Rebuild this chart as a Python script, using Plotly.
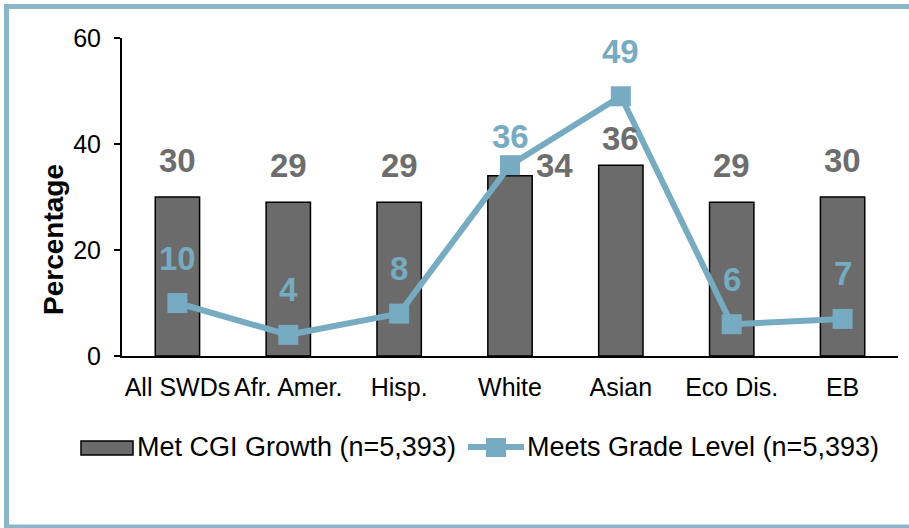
import plotly.graph_objects as go

categories = ["All SWDs", "Afr. Amer.", "Hisp.", "White", "Asian", "Eco Dis.", "EB"]
met_cgi_growth = [30, 29, 29, 34, 36, 29, 30]
meets_grade_level = [10, 4, 8, 36, 49, 6, 7]
y_ticks = [0, 20, 40, 60]
bar_name = "Met CGI Growth (n=5,393)"
line_name = "Meets Grade Level (n=5,393)"

BAR_COLOR = "#6b6b6b"
LINE_COLOR = "#76abc1"
BORDER = "#8bb8c9"
FONT = "Liberation Sans, Arial, sans-serif"

W, H = 909, 528
L, R, T, B = 122, 11, 38, 172
pw = W - L - R
ph = H - T - B

def px_x(px):
    return (px - L) / pw

def px_y(py):
    return (H - B - py) / ph

fig = go.Figure()
fig.add_trace(go.Bar(
    x=categories, y=met_cgi_growth, name=bar_name,
    marker=dict(color=BAR_COLOR, line=dict(color="black", width=1.5)),
    width=0.40, showlegend=False,
))
fig.add_trace(go.Scatter(
    x=categories, y=meets_grade_level, name=line_name, mode="lines+markers",
    line=dict(color=LINE_COLOR, width=6),
    marker=dict(symbol="square", size=20, color=LINE_COLOR),
    showlegend=False,
))

annotations = []
# bar value labels (pixel offsets of label centre from the bar top)
bar_yshift = {3: 10, 4: 27}
bar_xshift = {3: 44}
for i, (c, v) in enumerate(zip(categories, met_cgi_growth)):
    annotations.append(dict(
        x=c, y=v, text=str(v), showarrow=False, yanchor="middle",
        xshift=bar_xshift.get(i, 0), yshift=bar_yshift.get(i, 37),
        font=dict(family=FONT, size=33, color="#6d6d6d", weight="bold"),
    ))
line_yshift = {3: 29}
for i, (c, v) in enumerate(zip(categories, meets_grade_level)):
    annotations.append(dict(
        x=c, y=v, text=str(v), showarrow=False, yanchor="middle",
        yshift=line_yshift.get(i, 45),
        font=dict(family=FONT, size=33, color=LINE_COLOR, weight="bold"),
    ))
annotations.append(dict(
    xref="paper", yref="paper", x=px_x(53), y=px_y(240), text="Percentage",
    textangle=-90, showarrow=False, xanchor="center", yanchor="middle",
    font=dict(family=FONT, size=28, color="black", weight="bold"),
))

# legend (drawn manually to match the wide swatches)
LEG_Y = 447
annotations.append(dict(
    xref="paper", yref="paper", x=px_x(135), y=px_y(LEG_Y), text=bar_name,
    showarrow=False, xanchor="left", yanchor="middle",
    font=dict(family=FONT, size=27, color="black"),
))
annotations.append(dict(
    xref="paper", yref="paper", x=px_x(525), y=px_y(LEG_Y), text=line_name,
    showarrow=False, xanchor="left", yanchor="middle",
    font=dict(family=FONT, size=27, color="black"),
))

shapes = [
    dict(type="rect", xref="paper", yref="paper", layer="below",
         x0=px_x(6.5), x1=px_x(920), y0=px_y(6.5), y1=px_y(527),
         line=dict(color=BORDER, width=5), fillcolor="rgba(0,0,0,0)"),
    dict(type="rect", xref="paper", yref="paper",
         x0=px_x(81), x1=px_x(133), y0=px_y(441), y1=px_y(455),
         line=dict(color="black", width=1.5), fillcolor=BAR_COLOR),
    dict(type="line", xref="paper", yref="paper",
         x0=px_x(468), x1=px_x(524), y0=px_y(LEG_Y), y1=px_y(LEG_Y),
         line=dict(color=LINE_COLOR, width=6)),
    dict(type="rect", xref="paper", yref="paper",
         x0=px_x(486), x1=px_x(506), y0=px_y(438), y1=px_y(457),
         line=dict(width=0), fillcolor=LINE_COLOR),
]

fig.update_layout(
    width=W, height=H,
    margin=dict(l=L, r=R, t=T, b=B, autoexpand=False),
    paper_bgcolor="white", plot_bgcolor="white",
    font=dict(family=FONT, color="black"),
    showlegend=False,
    annotations=annotations,
    shapes=shapes,
    xaxis=dict(
        showline=True, linecolor="black", linewidth=2, ticks="",
        tickfont=dict(family=FONT, size=25, color="black"),
        ticklabelstandoff=8, showgrid=False,
    ),
    yaxis=dict(
        range=[0, 60], tickvals=y_ticks, showline=True, linecolor="black", linewidth=2,
        ticks="outside", ticklen=6, tickwidth=2, tickcolor="black",
        tickfont=dict(family=FONT, size=25, color="black"),
        ticklabelstandoff=8,
        showgrid=False, zeroline=False,
    ),
)

fig.write_html(
    "out.html",
    config={"displayModeBar": False},
    post_script="document.body.style.margin='0';document.body.style.overflow='hidden';",
)
